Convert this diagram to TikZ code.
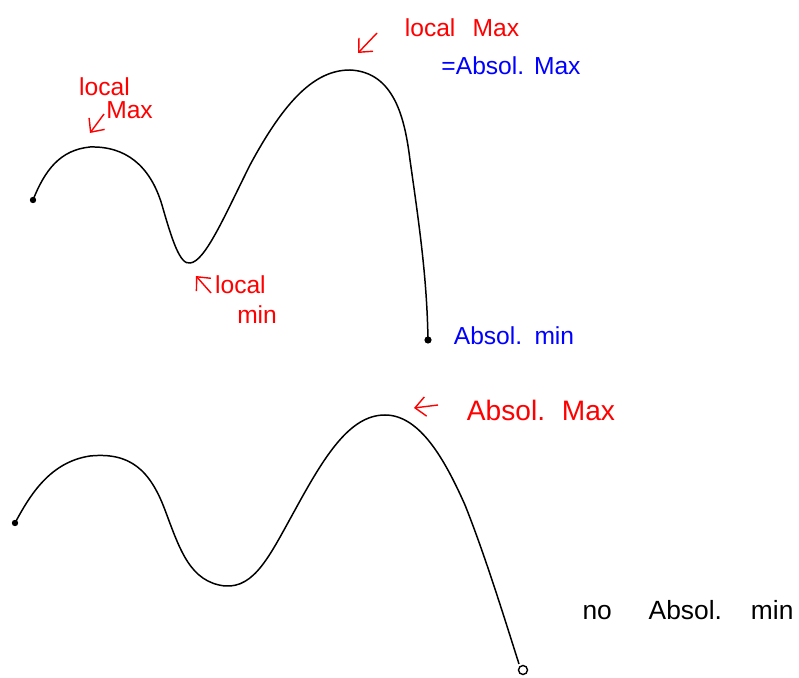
\documentclass[tikz,border=0pt]{standalone}
\usepackage{fontspec}
\setmainfont{Liberation Sans}
\usetikzlibrary{arrows.meta}
\tikzset{
  curva/.style={line width=0.85pt, black},
  nota/.style={text=red, font=\fontsize{14}{15}\selectfont, inner sep=1pt},
  notablu/.style={text=blue, font=\fontsize{14}{15}\selectfont, inner sep=1pt},
  freccia/.style={red, line width=0.8pt, -{Straight Barb[length=6pt,width=11pt]}},
}
\begin{document}
\begin{tikzpicture}[x=0.02cm, y=-0.02cm]
    \useasboundingbox (0,0) rectangle (799,678);

    % Grafico superiore: min e max assoluti raggiunti
    \draw[curva] (33,200) .. controls (45,170) and (60,150) .. (90,147)
        .. controls (125,146) and (150,165) .. (162,205)
        .. controls (172,240) and (180,265) .. (190,263)
        .. controls (205,262) and (225,215) .. (250,165)
        .. controls (285,100) and (315,70) .. (350,70)
        .. controls (395,72) and (405,120) .. (410,160)
        .. controls (420,230) and (427,280) .. (428,340);
    \fill (33,200) circle (3.2);
    \fill (428,340) circle (3.6);

    % Etichette in alto
    \node[nota, align=left] (lmax1) at (116,98) {local\\[-2pt]\hspace{1.1em}Max};
    \coordinate (lmax1a) at (104,114);
    \coordinate (lmax1b) at (90,133);
    \draw[freccia] (lmax1a) -- (lmax1b);

    \node[nota, align=left] (lmin) at (246,300) {local\\[2pt]\hspace{0.9em}min};
    \coordinate (lmina) at (211,293);
    \coordinate (lminb) at (196,276);
    \draw[freccia] (lmina) -- (lminb);

    \node[nota] (lmax2) at (462,28) {local\hspace{0.7em}Max};
    \coordinate (lmax2a) at (377,33);
    \coordinate (lmax2b) at (358,53);
    \draw[freccia] (lmax2a) -- (lmax2b);
    \node[notablu] (amax1) at (511,66) {=Absol.\hspace{0.4em}Max};

    \node[notablu] (amin1) at (514,336) {Absol.\hspace{0.5em}min};

    % Grafico inferiore: nessun minimo assoluto
    \draw[curva] (15,523) .. controls (30,495) and (50,462) .. (90,456)
        .. controls (130,452) and (150,470) .. (165,510)
        .. controls (180,550) and (190,582) .. (225,586)
        .. controls (255,588) and (270,555) .. (295,510)
        .. controls (325,455) and (350,415) .. (385,415)
        .. controls (420,415) and (445,460) .. (465,505)
        .. controls (485,555) and (505,620) .. (519,664);
    \fill (15,523) circle (3.2);
    \draw[line width=0.8pt] (523,670) circle (4.5);

    \node[nota, font=\fontsize{16}{17}\selectfont] (amax2) at (541,410) {Absol.\hspace{0.6em}Max};
    \coordinate (amax2a) at (438,405);
    \coordinate (amax2b) at (414,408);
    \draw[freccia] (amax2a) -- (amax2b);

    \node[font=\fontsize{15}{16}\selectfont, inner sep=1pt] (nomin) at (688,610) {no\hspace{1.4em}Absol.\hspace{1.1em}min};
\end{tikzpicture}
\end{document}
